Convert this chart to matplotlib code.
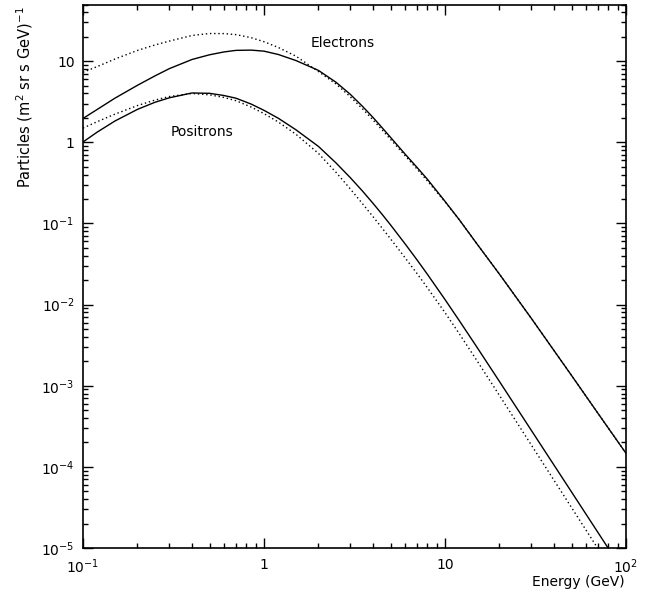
import numpy as np
import matplotlib
matplotlib.use("Agg")
import matplotlib.pyplot as plt
from matplotlib.ticker import LogLocator, NullFormatter, FixedLocator, FixedFormatter

energy = [0.1, 0.12, 0.15, 0.2, 0.25, 0.3, 0.4, 0.5, 0.6, 0.7, 0.85, 1.0, 1.2, 1.5, 2, 2.5,
          3, 3.5, 4, 4.5, 5, 6, 7, 8, 10, 12, 15, 20, 30, 50, 70, 100]

electrons_solid = [1.97, 2.55, 3.5, 5.05, 6.6, 8.1, 10.5, 12.0, 13.0, 13.6, 13.7, 13.3, 12.1, 10.2,
                   7.7, 5.5, 3.90, 2.78, 2.03, 1.51, 1.153, 0.722, 0.492, 0.350, 0.1876, 0.111,
                   0.0562, 0.0237, 6.76e-3, 1.34e-3, 4.57e-4, 1.47e-4]
electrons_dotted = [7.3, 8.6, 10.63, 13.58, 15.87, 17.71, 20.75, 21.94, 21.9, 21.27, 19.49, 17.39,
                    14.76, 11.55, 7.45, 5.24, 3.64, 2.59, 1.893, 1.418, 1.09, 0.691, 0.470, 0.334,
                    0.185, 0.111, 0.0562, 0.0237, 6.76e-3, 1.34e-3, 4.57e-4, 1.47e-4]
positrons_solid = [1.01, 1.34, 1.83, 2.55, 3.12, 3.54, 4.06, 4.02, 3.78, 3.50, 2.96, 2.48, 1.98, 1.43,
                   0.89, 0.557, 0.3663, 0.2511, 0.1774, 0.1291, 0.0961, 0.0566, 0.03567, 0.02358,
                   0.01155, 6.33e-3, 2.996e-3, 1.126e-3, 2.815e-4, 4.91e-5, 1.553e-5, 4.58e-6]
positrons_dotted = [1.5, 1.80, 2.225, 2.84, 3.32, 3.67, 4.005, 3.85, 3.58, 3.26, 2.72, 2.26, 1.78, 1.26,
                    0.73, 0.427, 0.266, 0.1754, 0.1215, 0.0874, 0.0647, 0.03814, 0.02420, 0.01610,
                    7.97e-3, 4.37e-3, 2.045e-3, 7.58e-4, 1.857e-4, 3.155e-5, 9.81e-6, 2.85e-6]

x_ticks = [0.1, 1, 10, 100]
x_ticklabels = [r"$10^{-1}$", "1", "10", r"$10^{2}$"]
y_ticks = [1e-5, 1e-4, 1e-3, 1e-2, 1e-1, 1, 10]
y_ticklabels = [r"$10^{-5}$", r"$10^{-4}$", r"$10^{-3}$", r"$10^{-2}$", r"$10^{-1}$", "1", "10"]

plt.rcParams['font.family'] = ['DejaVu Sans']
plt.rcParams['mathtext.fontset'] = 'dejavusans'

fig = plt.figure(figsize=(6.59, 5.94), dpi=100)
ax = fig.add_axes([83/659, 1 - 548/594, (626-83)/659, (548-4.5)/594])

ax.plot(energy, electrons_solid, color='black', lw=1.0)
ax.plot(energy, electrons_dotted, color='black', lw=1.0, ls=(0, (1, 2)))
ax.plot(energy, positrons_solid, color='black', lw=1.0)
ax.plot(energy, positrons_dotted, color='black', lw=1.0, ls=(0, (1, 2)))

ax.set_xscale('log')
ax.set_yscale('log')
ax.set_xlim(0.1, 100)
ax.set_ylim(1e-5, 50)

ax.xaxis.set_major_locator(FixedLocator(x_ticks))
ax.xaxis.set_major_formatter(FixedFormatter(x_ticklabels))
ax.yaxis.set_major_locator(FixedLocator(y_ticks))
ax.yaxis.set_major_formatter(FixedFormatter(y_ticklabels))
ax.xaxis.set_minor_locator(LogLocator(base=10, subs=np.arange(2, 10), numticks=100))
ax.yaxis.set_minor_locator(LogLocator(base=10, subs=np.arange(2, 10), numticks=100))
ax.xaxis.set_minor_formatter(NullFormatter())
ax.yaxis.set_minor_formatter(NullFormatter())

ax.tick_params(which='both', direction='in', top=True, right=True, width=1.0, color='black')
ax.tick_params(which='major', length=7)
ax.tick_params(which='minor', length=3.5)
ax.tick_params(axis='y', which='major', pad=6, labelsize=10)
ax.tick_params(axis='x', which='major', pad=7, labelsize=10)
for s in ax.spines.values():
    s.set_linewidth(1.2)

ax.text(1.82, 17, "Electrons", ha='left', va='center', fontsize=10)
ax.text(0.303, 1.36, "Positrons", ha='left', va='center', fontsize=10)

fig.text(625/659, 1 - 586/594, "Energy (GeV)", ha='right', va='baseline', fontsize=10)
fig.text(25/659, 1 - 6/594, r"Particles (m$^{2}$ sr s GeV)$^{-1}$", rotation=90,
         ha='center', va='top', fontsize=10.5)

fig.savefig("out.png", dpi=100)
